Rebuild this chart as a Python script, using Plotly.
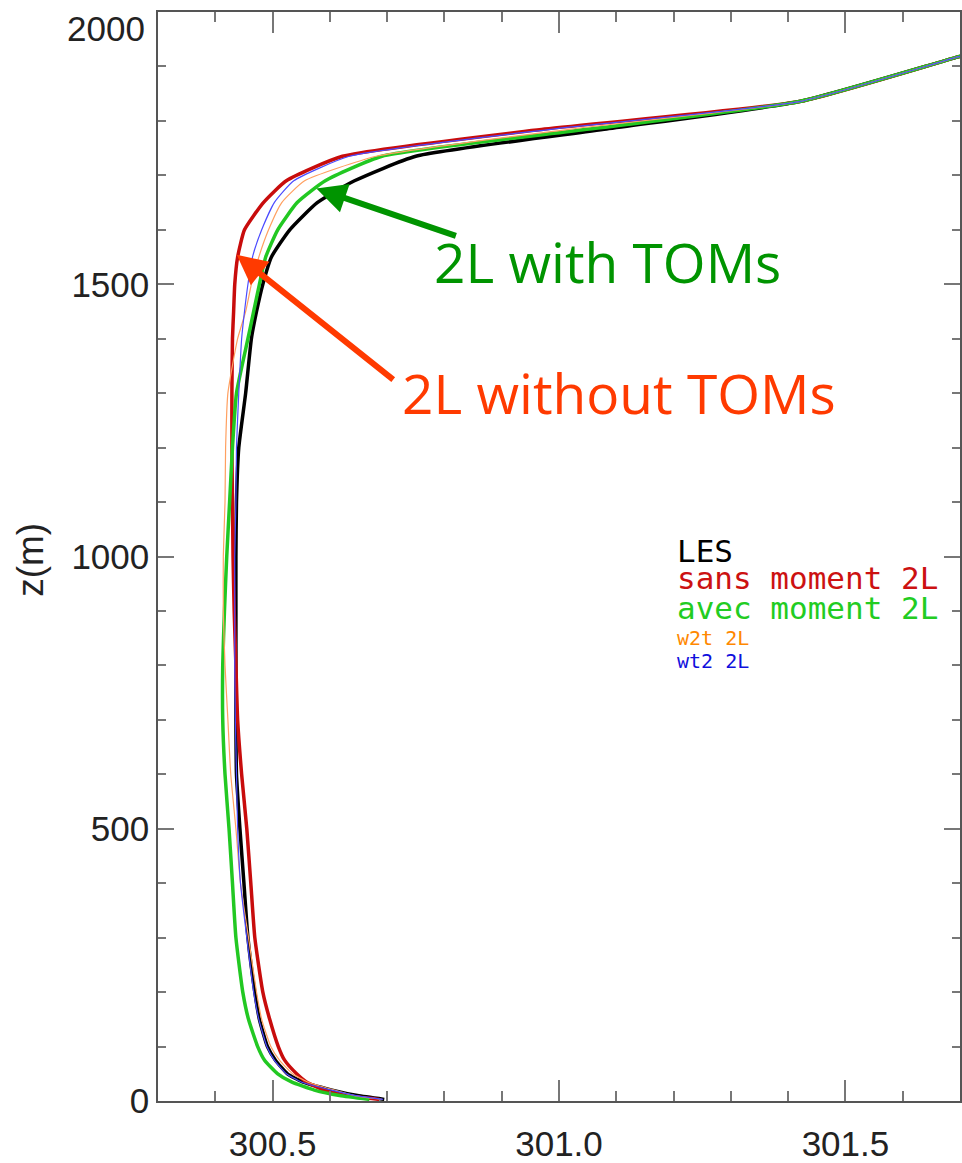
import plotly.graph_objects as go

# ---------------- data ----------------
z_levels = [3, 10, 20, 35, 50, 75, 100, 150, 200, 300, 400, 500, 600, 700, 800, 900,
            1000, 1100, 1200, 1300, 1400, 1450, 1500, 1550, 1600, 1650, 1690, 1735,
            1785, 1836, 1918, 2000]

theta_les = [300.695, 300.648, 300.604, 300.552, 300.526, 300.505, 300.491, 300.477,
             300.469, 300.457, 300.450, 300.443, 300.437, 300.436, 300.436, 300.436,
             300.436, 300.437, 300.441, 300.453, 300.463, 300.472, 300.483, 300.498,
             300.530, 300.578, 300.643, 300.750, 301.083, 301.422, 301.698, 301.975]

theta_sans = [300.686, 300.629, 300.590, 300.559, 300.542, 300.521, 300.510, 300.495,
              300.483, 300.469, 300.462, 300.455, 300.446, 300.439, 300.436, 300.433,
              300.431, 300.430, 300.429, 300.429, 300.430, 300.432, 300.434, 300.439,
              300.451, 300.484, 300.524, 300.622, 300.975, 301.422, 301.698, 301.975]

theta_avec = [300.669, 300.617, 300.573, 300.533, 300.509, 300.486, 300.474, 300.458,
              300.448, 300.436, 300.430, 300.424, 300.417, 300.413, 300.413, 300.416,
              300.420, 300.425, 300.430, 300.437, 300.457, 300.467, 300.477, 300.488,
              300.509, 300.543, 300.592, 300.691, 301.053, 301.422, 301.698, 301.975]

theta_w2t = [300.691, 300.643, 300.608, 300.561, 300.535, 300.512, 300.497, 300.481,
             300.472, 300.458, 300.444, 300.436, 300.427, 300.422, 300.417, 300.414,
             300.414, 300.417, 300.418, 300.422, 300.439, 300.453, 300.463, 300.476,
             300.493, 300.516, 300.556, 300.681, 301.020, 301.422, 301.698, 301.975]

theta_wt2 = [300.693, 300.646, 300.603, 300.550, 300.524, 300.503, 300.490, 300.476,
             300.467, 300.455, 300.444, 300.439, 300.437, 300.435, 300.434, 300.434,
             300.434, 300.436, 300.437, 300.441, 300.446, 300.451, 300.457, 300.465,
             300.481, 300.503, 300.537, 300.634, 300.989, 301.422, 301.698, 301.975]

legend_labels = ["LES", "sans moment 2L", "avec moment 2L", "w2t 2L", "wt2 2L"]
x_tick_vals = [300.5, 301.0, 301.5]
y_tick_vals = [0, 500, 1000, 1500, 2000]
y_tick_text = ["0", "500", "1000", "1500", ""]   # top label drawn inside the frame below
y_top_label = "2000"

# ---------------- figure ----------------
series = [
    (theta_les, "#000000", 3.5),
    (theta_sans, "#c80c0c", 3.5),
    (theta_avec, "#22c822", 3.5),
    (theta_w2t, "#ffa060", 1.2),
    (theta_wt2, "#4a4aff", 1.2),
]

fig = go.Figure()
for xs, col, w in series:
    fig.add_trace(go.Scatter(x=xs, y=z_levels, mode="lines",
                             line=dict(color=col, width=w, shape="spline", smoothing=0.5),
                             showlegend=False, cliponaxis=True))

FONT = "Liberation Sans, Arial, sans-serif"
tick_font = dict(family=FONT, size=35, color="#222222")

fig.update_xaxes(range=[300.3, 301.7], tickvals=x_tick_vals, tickformat=".1f",
                 ticks="inside", ticklen=21, tickwidth=1.5, tickcolor="#777777",
                 minor=dict(ticks="inside", ticklen=10, dtick=0.1, tick0=300.3,
                            tickwidth=1.5, tickcolor="#777777"),
                 showline=True, linecolor="#555555", linewidth=1.5, mirror="allticks",
                 showgrid=False, zeroline=False, tickfont=tick_font,
                 ticklabelstandoff=11)
fig.update_yaxes(range=[0, 2000], tickvals=y_tick_vals, ticktext=y_tick_text,
                 ticks="inside", ticklen=16, tickwidth=1.5, tickcolor="#777777",
                 minor=dict(ticks="inside", ticklen=8, dtick=100, tick0=0,
                            tickwidth=1.5, tickcolor="#777777"),
                 showline=True, linecolor="#555555", linewidth=1.5, mirror="allticks",
                 showgrid=False, zeroline=False, tickfont=tick_font,
                 ticklabelstandoff=0)

W, H = 962, 1163
L, R, T, B = 158, 0, 12, 51
fig.update_layout(width=W, height=H, margin=dict(l=L, r=R, t=T, b=B),
                  paper_bgcolor="white", plot_bgcolor="white", showlegend=False)

pw, ph = W - L - R, H - T - B


def px2paper(px, py):
    return (px - L) / pw, (H - B - py) / ph


# top y tick label kept inside the figure
tx, ty = px2paper(147, 29)
fig.add_annotation(text=y_top_label, xref="paper", yref="paper", x=tx, y=ty,
                   showarrow=False, xanchor="right", yanchor="middle", font=tick_font)

# y-axis title
tx, ty = px2paper(30, 565)
fig.add_annotation(text="z(m)", xref="paper", yref="paper", x=tx, y=ty,
                   textangle=-90, showarrow=False, xanchor="center", yanchor="middle",
                   font=dict(family=FONT, size=37, color="#222222"))

# legend block
leg_colors = ["#000000", "#cc1111", "#22cc22", "#ff8800", "#1010dd"]
leg_sizes = [31, 31, 31, 20, 20]
leg_py = [556, 584, 614, 644, 668]
for lab, col, sz, py in zip(legend_labels, leg_colors, leg_sizes, leg_py):
    lx, ly = px2paper(676, py)
    fig.add_annotation(text=lab, xref="paper", yref="paper", x=lx, y=ly,
                       showarrow=False, xanchor="left", yanchor="middle",
                       font=dict(family="DejaVu Sans Mono, monospace", size=sz, color=col))

# callout arrows
fig.add_annotation(x=300.5765, y=1676, xref="x", yref="y", text="", showarrow=True,
                   ax=141, ay=48, arrowhead=2, arrowsize=1, arrowwidth=6,
                   arrowcolor="#009400", standoff=0)
fig.add_annotation(x=300.4374, y=1554, xref="x", yref="y", text="", showarrow=True,
                   ax=158, ay=126, arrowhead=2, arrowsize=1, arrowwidth=6,
                   arrowcolor="#ff3a00", standoff=0)

gx, gy = px2paper(433, 264)
fig.add_annotation(text="2L with TOMs", xref="paper", yref="paper", x=gx, y=gy,
                   showarrow=False, xanchor="left", yanchor="middle",
                   font=dict(family="Open Sans, sans-serif", size=55, color="#009400"))
rx, ry = px2paper(401, 396)
fig.add_annotation(text="2L without TOMs", xref="paper", yref="paper", x=rx, y=ry,
                   showarrow=False, xanchor="left", yanchor="middle",
                   font=dict(family="Open Sans, sans-serif", size=55, color="#ff3a00"))

fig.write_html("out.html")
